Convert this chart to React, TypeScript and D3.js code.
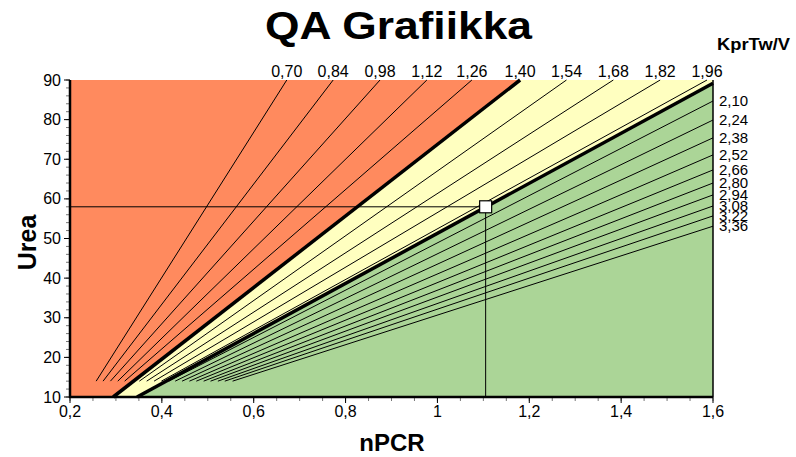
import React from "react";
import * as d3 from "d3";

const title = "QA Grafiikka";
const xTitle = "nPCR";
const yTitle = "Urea";
const ktvTitle = "KprTw/V";

const xTicks = [0.2, 0.4, 0.6, 0.8, 1.0, 1.2, 1.4, 1.6];
const yTicks = [10, 20, 30, 40, 50, 60, 70, 80, 90];

// thin Kt/V lines ending at the top edge (urea 90)
const topKtv = ["0,70", "0,84", "0,98", "1,12", "1,26", "1,54", "1,68", "1,82", "1,96"];
const topStartNpcr = [0.257, 0.272, 0.288, 0.304, 0.319, 0.351, 0.367, 0.383, 0.399];
const topEndNpcr = [0.672, 0.773, 0.875, 0.977, 1.075, 1.281, 1.383, 1.485, 1.587];

// thin Kt/V lines ending at the right edge (nPCR 1.6)
const rightKtv = ["2,10", "2,24", "2,38", "2,52", "2,66", "2,80", "2,94", "3,08", "3,22", "3,36"];
const rightStartNpcr = [0.415, 0.429, 0.444, 0.46, 0.475, 0.491, 0.506, 0.522, 0.537, 0.554];
const rightEndUrea = [84.7, 79.9, 75.4, 71.1, 67.3, 64.0, 61.0, 58.2, 55.7, 53.1];
const lineStartUrea = 14;

// thick zone boundaries
const redYellowLabel = "1,40";
const redYellowStart = [0.294, 10];
const redYellowEnd = [1.18, 90];
const yellowGreenStart = [0.346, 10];
const yellowGreenEnd = [1.6, 89.2];

// patient point
const pointNpcr = 1.105;
const pointUrea = 58;

const W = 796;
const H = 457;

export default function App() {
  const x = d3.scaleLinear().domain([0.2, 1.6]).range([70, 713]);
  const y = d3.scaleLinear().domain([10, 90]).range([397, 80]);
  const line = d3.line<number[]>().x((d) => x(d[0])).y((d) => y(d[1]));
  const [x0, x1] = x.domain();
  const [y0, y1] = y.domain();

  const redPoly: number[][] = [[x0, y0], redYellowStart, redYellowEnd, [x0, y1]];
  const yellowPoly: number[][] = [redYellowStart, yellowGreenStart, yellowGreenEnd, [x1, y1], redYellowEnd];
  const greenPoly: number[][] = [yellowGreenStart, [x1, y0], yellowGreenEnd];

  const xMinor = d3.range(0.2, 1.6001, 0.05);
  const yMinor = d3.range(10, 90.001, 2);
  const font = "Liberation Sans, Arial, sans-serif";

  return (
    <svg width={W} height={H} style={{ position: "absolute", left: 0, top: 0, background: "#fff" }} fontFamily={font}>
      <path d={line(redPoly as any) + "Z"} fill="#FF8A5E" />
      <path d={line(yellowPoly as any) + "Z"} fill="#FFFFC0" />
      <path d={line(greenPoly as any) + "Z"} fill="#ABD597" />

      {topKtv.map((k, i) => (
        <path key={"t" + k} d={line([[topStartNpcr[i], lineStartUrea], [topEndNpcr[i], y1]]) || ""} stroke="#000" strokeWidth={1} fill="none" />
      ))}
      {rightKtv.map((k, i) => (
        <path key={"r" + k} d={line([[rightStartNpcr[i], lineStartUrea], [x1, rightEndUrea[i]]]) || ""} stroke="#000" strokeWidth={1} fill="none" />
      ))}
      <path d={line([redYellowStart, redYellowEnd]) || ""} stroke="#000" strokeWidth={3.5} fill="none" />
      <path d={line([yellowGreenStart, yellowGreenEnd]) || ""} stroke="#000" strokeWidth={3.5} fill="none" />

      {/* crosshair */}
      <line x1={x(x0)} x2={x(pointNpcr)} y1={y(pointUrea)} y2={y(pointUrea)} stroke="#000" strokeWidth={1} />
      <line x1={x(pointNpcr)} x2={x(pointNpcr)} y1={y(pointUrea)} y2={y(y0)} stroke="#000" strokeWidth={1} />
      <rect x={x(pointNpcr) - 6} y={y(pointUrea) - 6} width={12} height={12} fill="#fff" stroke="#000" strokeWidth={1.2} />

      {/* right edge */}
      <line x1={x(x1)} x2={x(x1)} y1={y(y1)} y2={y(y0)} stroke="#000" strokeWidth={1.5} />

      {/* axes */}
      {xMinor.map((v) => (
        <line key={"xm" + v} x1={x(v)} x2={x(v)} y1={y(y0)} y2={y(y0) + 4} stroke="#777" strokeWidth={1} />
      ))}
      {xTicks.map((v) => (
        <line key={"xt" + v} x1={x(v)} x2={x(v)} y1={y(y0)} y2={y(y0) + 6} stroke="#000" strokeWidth={1} />
      ))}
      {yMinor.map((v) => (
        <line key={"ym" + v} x1={x(x0) - 4} x2={x(x0)} y1={y(v)} y2={y(v)} stroke="#777" strokeWidth={1} />
      ))}
      {yTicks.map((v) => (
        <line key={"yt" + v} x1={x(x0) - 6} x2={x(x0)} y1={y(v)} y2={y(v)} stroke="#000" strokeWidth={1} />
      ))}
      <line x1={x(x0)} x2={x(x0)} y1={y(y1)} y2={y(y0) + 1} stroke="#000" strokeWidth={2.5} />
      <line x1={x(x0) - 1} x2={x(x1)} y1={y(y0)} y2={y(y0)} stroke="#000" strokeWidth={2.5} />

      {xTicks.map((v) => (
        <text key={"xl" + v} x={x(v)} y={417} textAnchor="middle" fontSize={16} fill="#000">
          {d3.format("")(+v.toFixed(1)).replace(".", ",")}
        </text>
      ))}
      {yTicks.map((v) => (
        <text key={"yl" + v} x={61} y={y(v)} dy="0.35em" textAnchor="end" fontSize={16} fill="#000">
          {v}
        </text>
      ))}

      {topKtv.map((k, i) => (
        <text key={"tl" + k} x={x(topEndNpcr[i])} y={77} textAnchor="middle" fontSize={16} fill="#000">
          {k}
        </text>
      ))}
      <text x={x(redYellowEnd[0])} y={77} textAnchor="middle" fontSize={16} fill="#000">
        {redYellowLabel}
      </text>
      {rightKtv.map((k, i) => (
        <text key={"rl" + k} x={719} y={y(rightEndUrea[i])} dy="0.35em" textAnchor="start" fontSize={15} fill="#000">
          {k}
        </text>
      ))}

      <text x={265} y={39} fontSize={38} fontWeight="bold" fill="#000" textLength={267} lengthAdjust="spacingAndGlyphs">
        {title}
      </text>
      <text x={717} y={50} fontSize={17} fontWeight="bold" fill="#000" textLength={73} lengthAdjust="spacingAndGlyphs">
        {ktvTitle}
      </text>
      <text x={392} y={451} textAnchor="middle" fontSize={24} fontWeight="bold" fill="#000">
        {xTitle}
      </text>
      <text transform={`translate(36,${y(49)}) rotate(-90)`} textAnchor="middle" fontSize={25} fontWeight="bold" fill="#000">
        {yTitle}
      </text>
    </svg>
  );
}
